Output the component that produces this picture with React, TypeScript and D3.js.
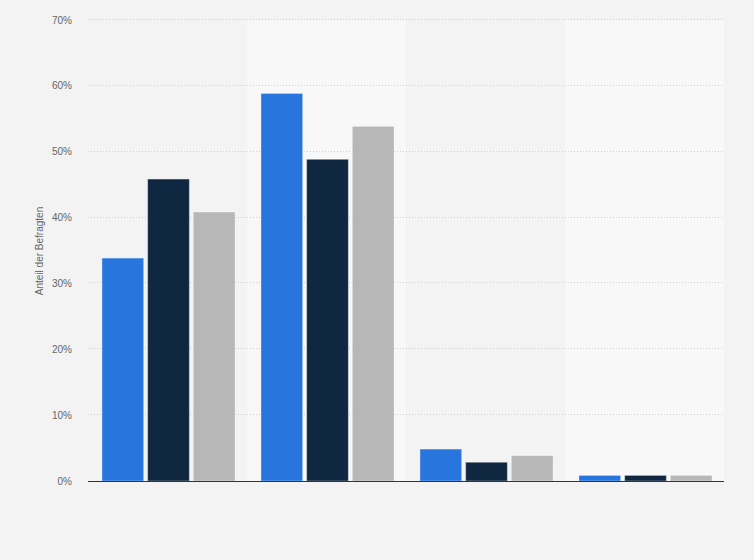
import React from "react";
import * as d3 from "d3";

const categories = ["A", "B", "C", "D"];
const seriesNames = ["Serie 1", "Serie 2", "Serie 3"];
const series1 = [34, 59, 5, 1];
const series2 = [46, 49, 3, 1];
const series3 = [41, 54, 4, 1];
const yTicks = [0, 10, 20, 30, 40, 50, 60, 70];
const colors = ["#2876dd", "#0f2740", "#b7b7b7"];

const W = 754;
const H = 560;
const M = { left: 88, right: 30, top: 20, bottom: 79 };

export default function App() {
  const values = [series1, series2, series3];
  const x = d3
    .scaleBand<string>()
    .domain(categories)
    .range([M.left, W - M.right])
    .paddingInner(0)
    .paddingOuter(0);
  const xs = d3
    .scaleBand<string>()
    .domain(seriesNames)
    .range([12, 149])
    .paddingInner(0.087)
    .paddingOuter(0.043);
  const y = d3.scaleLinear().domain([0, 70]).range([H - M.bottom, M.top]);
  const font = "'Liberation Sans', Arial, sans-serif";

  return (
    <svg
      width={W}
      height={H}
      style={{ position: "absolute", left: 0, top: 0, display: "block" }}
    >
      <rect x={0} y={0} width={W} height={H} fill="#f3f3f3" />
      {categories.map((c, i) =>
        i % 2 === 1 ? (
          <rect
            key={c}
            x={x(c)}
            y={y(70)}
            width={x.bandwidth()}
            height={y(0) - y(70)}
            fill="#f8f8f8"
          />
        ) : null
      )}
      {yTicks.map((t) => (
        <g key={t}>
          {t > 0 && (
            <line
              x1={M.left}
              x2={W - M.right}
              y1={Math.round(y(t)) - 0.5}
              y2={Math.round(y(t)) - 0.5}
              stroke="#cfcfcf"
              strokeWidth={1}
              strokeDasharray="1,2"
            />
          )}
          <text
            x={72}
            y={y(t)}
            dy="0.35em"
            textAnchor="end"
            fontFamily={font}
            fontSize={10}
            fill="#666"
          >
            {t}%
          </text>
        </g>
      ))}
      {categories.map((c, i) => (
        <g key={c} transform={`translate(${x(c)},0)`}>
          {seriesNames.map((s, j) => (
            <rect
              key={s}
              x={xs(s)}
              y={y(values[j][i]) + 1}
              width={xs.bandwidth()}
              height={Math.max(0, y(0) - y(values[j][i]) - 1)}
              fill={colors[j]}
              stroke="rgba(255,255,255,0.35)"
              strokeWidth={1}
            />
          ))}
        </g>
      ))}
      <line
        x1={M.left}
        x2={W - M.right}
        y1={y(0) + 0.5}
        y2={y(0) + 0.5}
        stroke="#333"
        strokeWidth={1.2}
      />
      <text
        transform={`translate(43,251) rotate(-90)`}
        textAnchor="middle"
        fontFamily={font}
        fontSize={10}
        fill="#666"
      >
        Anteil der Befragten
      </text>
    </svg>
  );
}
